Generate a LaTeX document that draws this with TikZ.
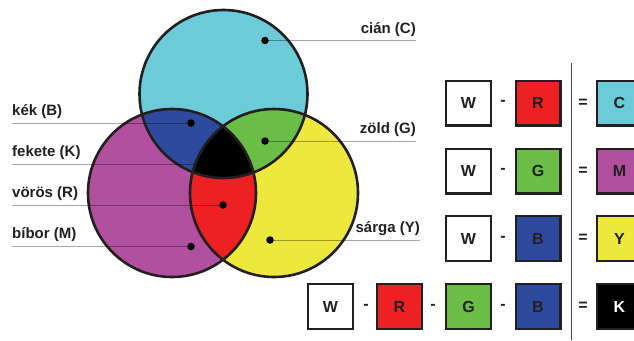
\documentclass[tikz,border=0pt]{standalone}
\usepackage{fontspec}
\setmainfont{Liberation Sans}
\definecolor{cC}{HTML}{6CCBD8}
\definecolor{cM}{HTML}{B0509E}
\definecolor{cY}{HTML}{EDE83C}
\definecolor{cB}{HTML}{2E4A9E}
\definecolor{cG}{HTML}{6ABD45}
\definecolor{cR}{HTML}{ED2024}
\definecolor{ink}{HTML}{231F20}
\begin{document}
\begin{tikzpicture}[x=1pt,y=-1pt,
 lbl/.style={font=\bfseries\fontsize{15}{18}\selectfont, text=ink, inner sep=0pt},
 guide/.style={draw=black, opacity=0.35, line width=0.9pt},
 dot/.style={circle, fill=black, inner sep=0pt, minimum size=7.5pt},
 cbox/.style={draw=ink, line width=2.2pt, minimum size=44.8pt, inner sep=0pt, text=ink, font=\bfseries\fontsize{16}{18}\selectfont},
 op/.style={font=\bfseries\fontsize{16}{18}\selectfont, text=ink, inner sep=0pt}]
\useasboundingbox (0,0) rectangle (634,340);
\def\rr{84}
\coordinate (cc) at (223.5,94);
\coordinate (cm) at (172,193);
\coordinate (cy) at (274,193);
\fill[cC] (cc) circle (\rr);
\fill[cM] (cm) circle (\rr);
\fill[cY] (cy) circle (\rr);
\begin{scope}\clip (cc) circle (\rr); \fill[cB] (cm) circle (\rr); \end{scope}
\begin{scope}\clip (cc) circle (\rr); \fill[cG] (cy) circle (\rr); \end{scope}
\begin{scope}\clip (cm) circle (\rr); \fill[cR] (cy) circle (\rr); \end{scope}
\begin{scope}\clip (cc) circle (\rr); \clip (cm) circle (\rr); \fill[black] (cy) circle (\rr); \end{scope}
\draw[line width=2.6pt, ink] (cc) circle (\rr) (cm) circle (\rr) (cy) circle (\rr);

% labels
\node[lbl, anchor=base west] (lB) at (12,115) {kék (B)};
\node[lbl, anchor=base west] (lK) at (12,156) {fekete (K)};
\node[lbl, anchor=base west] (lR) at (12,197) {vörös (R)};
\node[lbl, anchor=base west] (lM) at (12,238.5) {bíbor (M)};
\node[lbl, anchor=base east] (lC) at (416,33) {cián (C)};
\node[lbl, anchor=base east] (lG) at (416,133) {zöld (G)};
\node[lbl, anchor=base east] (lY) at (420,232) {sárga (Y)};

\coordinate (dK) at (195,164.5);
\path (191,123) coordinate (pB) (223,205) coordinate (pR) (191,246.5) coordinate (pM)
      (265,40.5) coordinate (pC) (265,141) coordinate (pG) (270,240) coordinate (pY);
\draw[guide] (lB.base west |- pB) -- (pB);
\draw[guide] (lK.base west |- dK) -- (dK);
\draw[guide] (lR.base west |- pR) -- (pR);
\draw[guide] (lM.base west |- pM) -- (pM);
\draw[guide] (pC) -- (lC.base east |- pC);
\draw[guide] (pG) -- (lG.base east |- pG);
\draw[guide] (pY) -- (lY.base east |- pY);
\node[dot] (dB) at (pB) {};
\node[dot] (dR) at (pR) {};
\node[dot] (dM) at (pM) {};
\node[dot] (dC) at (pC) {};
\node[dot] (dG) at (pG) {};
\node[dot] (dY) at (pY) {};

% separator
\coordinate (sepT) at (571,63);
\coordinate (sepB) at (571,340);
\draw[line width=1pt, black!70] (sepT) -- (sepB);

% row 1
\node[cbox, fill=white] (w1) at (468.5,103) {W};
\node[op] (m1) at (503,103) {-};
\node[cbox, fill=cR] (r1) at (538,103) {R};
\node[op] (e1) at (583,103) {=};
\node[cbox, fill=cC] (c1) at (619.5,103) {C};
% row 2
\node[cbox, fill=white] (w2) at (468.5,171) {W};
\node[op] (m2) at (503,171) {-};
\node[cbox, fill=cG] (g2) at (538,171) {G};
\node[op] (e2) at (583,171) {=};
\node[cbox, fill=cM] (c2) at (619.5,171) {M};
% row 3
\node[cbox, fill=white] (w3) at (468.5,238.5) {W};
\node[op] (m3) at (503,238.5) {-};
\node[cbox, fill=cB] (b3) at (538,238.5) {B};
\node[op] (e3) at (583,238.5) {=};
\node[cbox, fill=cY] (c3) at (619.5,238.5) {Y};
% row 4
\node[cbox, fill=white] (w4) at (330.5,306.5) {W};
\node[op] (m4a) at (366,306.5) {-};
\node[cbox, fill=cR] (r4) at (399.5,306.5) {R};
\node[op] (m4b) at (433,306.5) {-};
\node[cbox, fill=cG] (g4) at (468.5,306.5) {G};
\node[op] (m4c) at (503,306.5) {-};
\node[cbox, fill=cB] (b4) at (538,306.5) {B};
\node[op] (e4) at (583,306.5) {=};
\node[cbox, fill=black, text=white] (c4) at (619.5,306.5) {K};
\end{tikzpicture}
\end{document}
